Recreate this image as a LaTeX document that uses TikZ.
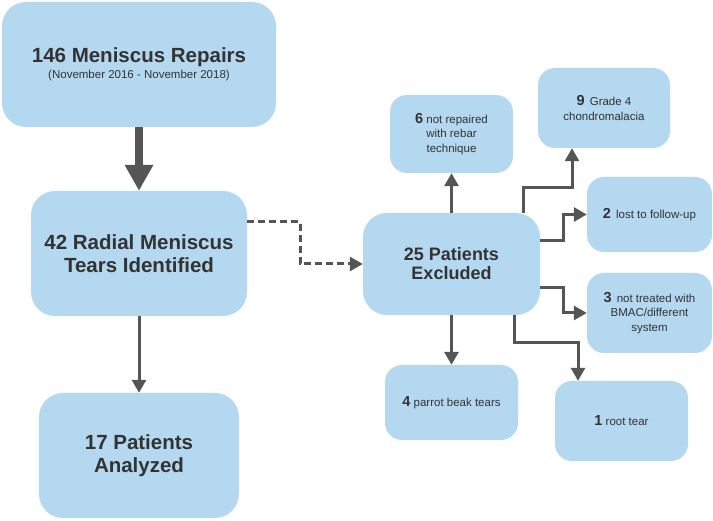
\documentclass[tikz,border=0pt]{standalone}
\usepackage{fontspec}
\setmainfont{Liberation Sans}
\usetikzlibrary{arrows.meta}
\definecolor{boxblue}{HTML}{B4D8EF}
\definecolor{txtgray}{HTML}{333333}
\definecolor{arrgray}{HTML}{555555}
\begin{document}
\begin{tikzpicture}[x=1pt,y=-1pt,
  bigbox/.style={fill=boxblue, rounded corners=24pt, align=center, text=txtgray, inner sep=0pt,
    font=\fontsize{20.5}{23.5}\selectfont\bfseries},
  smallbox/.style={fill=boxblue, rounded corners=17pt, align=center, text=txtgray, inner sep=0pt,
    font=\fontsize{11.5}{14.5}\selectfont},
  conn/.style={draw=arrgray, line width=3pt, -{Triangle[length=13pt,width=14pt]}},
  thickconn/.style={draw=arrgray, line width=8pt, -{Triangle[length=26pt,width=27pt]}},
  dashconn/.style={conn, dash pattern=on 7pt off 4pt}]
\useasboundingbox (0,0) rectangle (713,521);
\newcommand{\bnum}[1]{{\fontsize{14.5}{14.5}\selectfont\bfseries #1}}
% boxes
\node[bigbox, minimum width=274pt, minimum height=125pt] (top) at (139,64.5)
  {146 Meniscus Repairs\\[-8pt]{\fontsize{11.5}{13}\selectfont\mdseries (November 2016 - November 2018)}};
\node[bigbox, minimum width=216pt, minimum height=125pt] (rad) at (139,253.5)
  {42 Radial Meniscus\\Tears Identified};
\node[bigbox, minimum width=200pt, minimum height=125pt] (ana) at (139,455.5)
  {17 Patients\\Analyzed};
\node[bigbox, font=\fontsize{18}{19}\selectfont\bfseries, minimum width=177pt, minimum height=102pt] (ex) at (451.5,264)
  {25 Patients\\Excluded};
\node[smallbox, minimum width=123pt, minimum height=78pt] (rebar) at (451.5,134)
  {\bnum{6} not repaired\\with rebar\\technique};
\node[smallbox, minimum width=132pt, minimum height=80pt] (grade) at (604,108)
  {\bnum{9}\, Grade 4\\chondromalacia};
\node[smallbox, minimum width=125pt, minimum height=75pt] (lost) at (649.5,214.5)
  {\bnum{2}\, lost to follow-up};
\node[smallbox, minimum width=125pt, minimum height=80pt] (bmac) at (649.5,313)
  {\bnum{3}\, not treated with\\BMAC/different\\system};
\node[smallbox, minimum width=133pt, minimum height=75pt] (parrot) at (451.5,402.5)
  {\bnum{4} parrot beak tears};
\node[smallbox, minimum width=133pt, minimum height=80pt] (root) at (621.5,421)
  {\bnum{1} root tear};
% connectors
\draw[thickconn] (top.south) -- (rad.north);
\draw[conn] (rad.south) -- (ana.north);
\draw[dashconn] (rad.east |- 0,222) -- (300,222) |- (ex.west);
\draw[conn] (ex.north) -- (rebar.south);
\draw[conn] (ex.north -| 523,0) |- (572,188) -- (grade.south -| 572,0);
\draw[conn] (ex.east |- 0,241) -- (563,241) |- (lost.west);
\draw[conn] (ex.east |- 0,288) -- (563,288) |- (bmac.west);
\draw[conn] (ex.south) -- (parrot.north);
\draw[conn] (ex.south -| 514,0) |- (578,343) -- (root.north -| 578,0);
\end{tikzpicture}
\end{document}
